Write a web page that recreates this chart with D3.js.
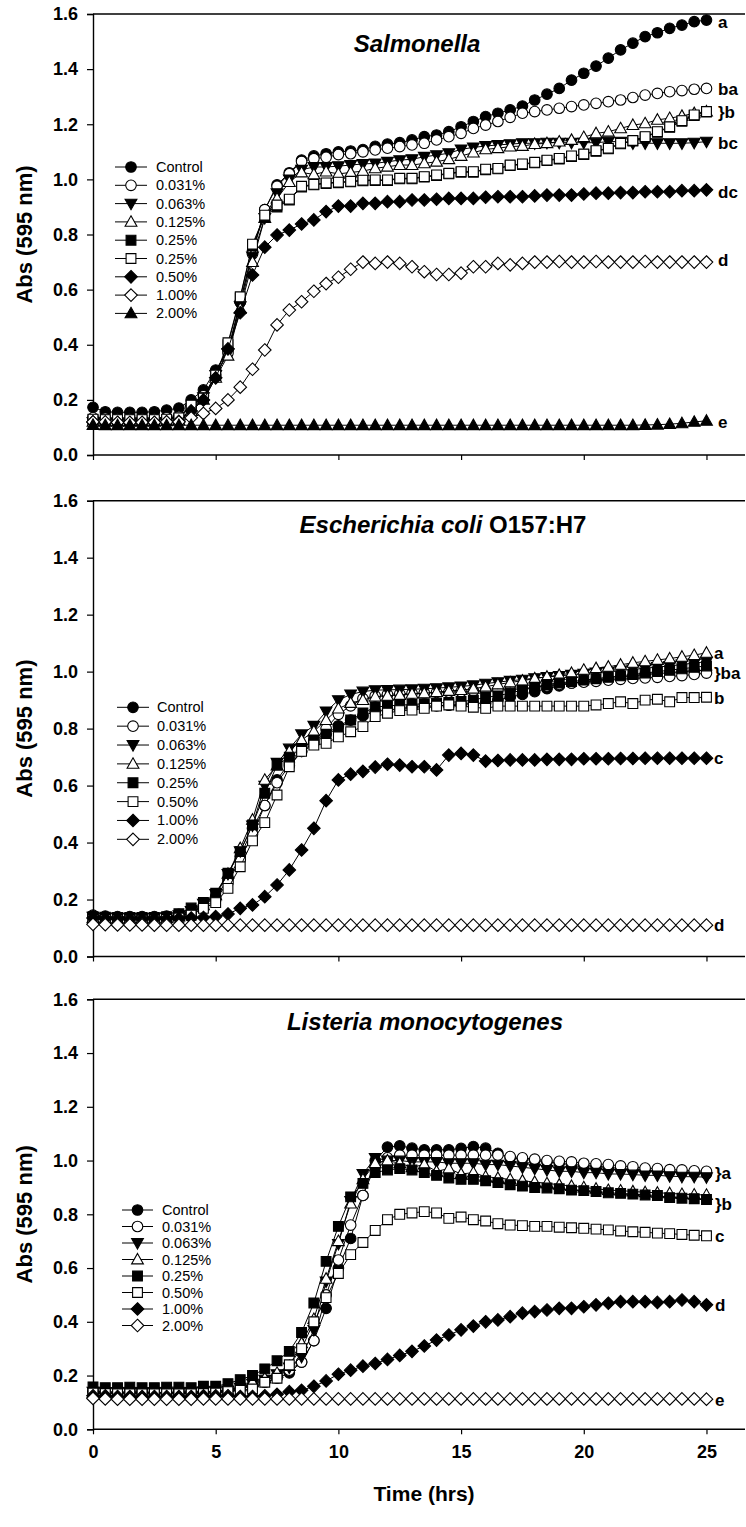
<!DOCTYPE html>
<html>
<head>
<meta charset="utf-8">
<script src="https://cdn.jsdelivr.net/npm/d3@7"></script>
<style>
  html, body { margin: 0; padding: 0; background: #fff; }
  svg { display: block; }
</style>
</head>
<body>
<script>
// Sampling times (hours)
const hours = [0,0.5,1,1.5,2,2.5,3,3.5,4,4.5,5,5.5,6,6.5,7,7.5,8,8.5,9,9.5,10,10.5,11,11.5,12,12.5,13,13.5,14,14.5,15,15.5,16,16.5,17,17.5,18,18.5,19,19.5,20,20.5,21,21.5,22,22.5,23,23.5,24,24.5,25];

// ---- Salmonella ----
const salControl = [0.173,0.157,0.155,0.155,0.155,0.157,0.163,0.170,0.200,0.236,0.308,0.380,0.555,0.740,0.890,0.980,1.024,1.070,1.085,1.093,1.100,1.103,1.108,1.120,1.128,1.133,1.143,1.155,1.161,1.173,1.191,1.210,1.228,1.240,1.252,1.266,1.288,1.309,1.330,1.360,1.385,1.411,1.440,1.470,1.494,1.518,1.532,1.548,1.560,1.572,1.578];
const sal031 = [0.135,0.133,0.130,0.130,0.130,0.130,0.135,0.140,0.175,0.215,0.290,0.370,0.555,0.730,0.890,0.975,1.020,1.065,1.075,1.080,1.090,1.093,1.100,1.107,1.113,1.119,1.125,1.131,1.143,1.155,1.167,1.185,1.197,1.210,1.225,1.240,1.246,1.252,1.258,1.264,1.270,1.276,1.282,1.288,1.297,1.306,1.312,1.318,1.322,1.327,1.330];
const sal063 = [0.120,0.118,0.118,0.118,0.118,0.118,0.120,0.125,0.165,0.210,0.290,0.370,0.540,0.720,0.860,0.950,1.000,1.035,1.045,1.045,1.048,1.052,1.056,1.058,1.064,1.070,1.073,1.082,1.088,1.095,1.109,1.116,1.121,1.125,1.128,1.131,1.131,1.133,1.133,1.133,1.133,1.133,1.137,1.137,1.131,1.131,1.131,1.131,1.131,1.133,1.137];
const sal125 = [0.120,0.120,0.120,0.120,0.120,0.120,0.122,0.125,0.160,0.200,0.280,0.360,0.530,0.700,0.860,0.930,0.990,1.025,1.018,1.028,1.020,1.025,1.030,1.040,1.046,1.052,1.052,1.058,1.064,1.073,1.085,1.097,1.109,1.113,1.119,1.121,1.128,1.131,1.137,1.143,1.153,1.167,1.173,1.185,1.197,1.203,1.216,1.222,1.230,1.240,1.246];
const sal25a = [0.128,0.127,0.126,0.126,0.126,0.126,0.128,0.133,0.178,0.205,0.288,0.400,0.570,0.760,0.865,0.900,0.925,0.972,0.980,0.985,0.988,0.991,0.995,0.996,0.996,1.002,1.002,1.008,1.014,1.020,1.026,1.026,1.035,1.038,1.050,1.054,1.060,1.068,1.074,1.083,1.090,1.102,1.111,1.129,1.139,1.153,1.171,1.189,1.211,1.232,1.244];
const sal25b = [0.130,0.128,0.128,0.128,0.128,0.128,0.130,0.135,0.181,0.206,0.290,0.407,0.574,0.765,0.870,0.907,0.928,0.975,0.982,0.987,0.990,0.993,0.997,0.998,0.998,1.004,1.004,1.010,1.016,1.022,1.028,1.028,1.037,1.040,1.052,1.056,1.062,1.070,1.076,1.085,1.092,1.104,1.113,1.131,1.141,1.155,1.173,1.191,1.213,1.234,1.246];
const sal50 = [0.120,0.118,0.118,0.118,0.118,0.118,0.120,0.122,0.160,0.200,0.280,0.385,0.516,0.653,0.754,0.798,0.816,0.838,0.853,0.883,0.903,0.903,0.913,0.913,0.919,0.919,0.925,0.925,0.928,0.931,0.931,0.931,0.935,0.937,0.937,0.937,0.940,0.943,0.943,0.943,0.947,0.950,0.950,0.952,0.952,0.955,0.955,0.955,0.959,0.959,0.962];
const sal100 = [0.120,0.120,0.118,0.118,0.118,0.118,0.120,0.120,0.135,0.151,0.169,0.200,0.246,0.311,0.381,0.472,0.526,0.556,0.594,0.622,0.645,0.674,0.700,0.695,0.700,0.695,0.683,0.665,0.655,0.655,0.660,0.683,0.683,0.695,0.690,0.695,0.700,0.700,0.702,0.700,0.700,0.702,0.700,0.700,0.700,0.702,0.700,0.700,0.700,0.700,0.700];
const sal200 = [0.109,0.108,0.108,0.108,0.108,0.108,0.108,0.108,0.108,0.108,0.108,0.108,0.108,0.108,0.108,0.108,0.108,0.108,0.108,0.108,0.108,0.108,0.108,0.108,0.108,0.108,0.108,0.108,0.108,0.108,0.108,0.108,0.108,0.108,0.108,0.108,0.108,0.108,0.108,0.108,0.108,0.108,0.108,0.108,0.108,0.109,0.110,0.112,0.115,0.120,0.124];

// ---- Escherichia coli O157:H7 ----
const ecControl = [0.145,0.142,0.140,0.140,0.140,0.140,0.142,0.148,0.158,0.175,0.210,0.270,0.350,0.450,0.530,0.620,0.680,0.720,0.750,0.780,0.810,0.830,0.845,0.860,0.865,0.870,0.875,0.878,0.880,0.882,0.885,0.888,0.890,0.900,0.910,0.920,0.930,0.940,0.950,0.960,0.965,0.970,0.975,0.980,0.985,0.990,0.993,0.996,1.000,1.003,1.005];
const ec031 = [0.140,0.138,0.137,0.137,0.137,0.137,0.138,0.142,0.150,0.170,0.200,0.260,0.340,0.430,0.530,0.610,0.670,0.720,0.760,0.800,0.850,0.880,0.905,0.915,0.920,0.922,0.924,0.925,0.927,0.928,0.930,0.932,0.933,0.935,0.937,0.940,0.945,0.950,0.955,0.960,0.963,0.966,0.970,0.973,0.976,0.978,0.980,0.983,0.986,0.990,0.995];
const ec063 = [0.140,0.137,0.136,0.136,0.136,0.136,0.138,0.145,0.160,0.185,0.220,0.290,0.370,0.460,0.600,0.680,0.730,0.780,0.810,0.860,0.900,0.920,0.930,0.935,0.936,0.937,0.938,0.940,0.942,0.945,0.948,0.952,0.958,0.963,0.968,0.972,0.977,0.981,0.985,0.989,0.993,0.997,1.000,1.004,1.008,1.012,1.016,1.020,1.025,1.030,1.035];
const ec125 = [0.135,0.133,0.132,0.132,0.132,0.132,0.134,0.140,0.155,0.180,0.215,0.290,0.380,0.480,0.620,0.670,0.720,0.760,0.790,0.830,0.870,0.890,0.900,0.912,0.915,0.918,0.922,0.924,0.928,0.932,0.935,0.940,0.947,0.955,0.962,0.968,0.976,0.982,0.988,0.995,1.006,1.012,1.017,1.024,1.031,1.036,1.041,1.046,1.052,1.058,1.066];
const ec25 = [0.140,0.138,0.137,0.137,0.137,0.137,0.140,0.150,0.170,0.190,0.222,0.292,0.368,0.462,0.573,0.672,0.700,0.730,0.760,0.780,0.800,0.830,0.855,0.875,0.880,0.882,0.885,0.887,0.890,0.892,0.895,0.900,0.910,0.915,0.925,0.935,0.945,0.955,0.960,0.965,0.970,0.975,0.980,0.985,0.990,0.995,1.000,1.005,1.010,1.015,1.020];
const ec50 = [0.130,0.130,0.128,0.128,0.128,0.128,0.130,0.135,0.145,0.169,0.189,0.239,0.315,0.406,0.470,0.567,0.666,0.720,0.742,0.748,0.771,0.789,0.807,0.842,0.854,0.863,0.865,0.871,0.879,0.883,0.879,0.875,0.871,0.879,0.879,0.879,0.879,0.879,0.879,0.879,0.879,0.883,0.888,0.894,0.888,0.900,0.903,0.894,0.909,0.909,0.910];
const ec100 = [0.135,0.133,0.132,0.132,0.132,0.132,0.132,0.133,0.135,0.137,0.140,0.149,0.169,0.181,0.210,0.251,0.304,0.374,0.450,0.547,0.620,0.640,0.650,0.665,0.675,0.672,0.666,0.666,0.655,0.707,0.713,0.707,0.686,0.688,0.690,0.690,0.690,0.692,0.692,0.692,0.694,0.694,0.694,0.695,0.695,0.696,0.696,0.696,0.696,0.696,0.696];
const ec200 = [0.113,0.112,0.111,0.111,0.111,0.110,0.110,0.110,0.110,0.110,0.110,0.110,0.110,0.110,0.110,0.110,0.110,0.110,0.110,0.110,0.110,0.110,0.110,0.110,0.110,0.110,0.110,0.110,0.110,0.110,0.110,0.110,0.110,0.110,0.110,0.110,0.110,0.110,0.110,0.110,0.110,0.110,0.110,0.110,0.110,0.110,0.110,0.110,0.110,0.110,0.110];

// ---- Listeria monocytogenes ----
const lmControl = [0.140,0.138,0.137,0.138,0.137,0.136,0.137,0.137,0.137,0.138,0.140,0.145,0.150,0.160,0.175,0.190,0.210,0.250,0.330,0.450,0.600,0.710,0.870,1.000,1.050,1.055,1.046,1.040,1.040,1.040,1.045,1.052,1.046,1.027,1.010,1.005,1.000,0.995,0.990,0.985,0.982,0.978,0.975,0.970,0.967,0.964,0.960,0.957,0.955,0.953,0.950];
const lm031 = [0.140,0.140,0.138,0.138,0.138,0.137,0.137,0.138,0.138,0.140,0.140,0.145,0.155,0.165,0.180,0.200,0.220,0.250,0.330,0.500,0.630,0.760,0.870,0.980,1.010,1.020,1.020,1.020,1.020,1.020,1.020,1.020,1.020,1.020,1.015,1.010,1.005,1.000,0.997,0.995,0.990,0.988,0.985,0.980,0.977,0.972,0.970,0.966,0.965,0.962,0.960];
const lm063 = [0.140,0.138,0.137,0.137,0.137,0.137,0.137,0.137,0.138,0.140,0.142,0.145,0.155,0.170,0.185,0.205,0.230,0.270,0.370,0.550,0.690,0.850,0.950,1.010,1.000,1.000,0.995,0.995,0.995,0.990,0.990,0.990,0.985,0.985,0.980,0.975,0.970,0.965,0.960,0.960,0.955,0.955,0.950,0.950,0.948,0.945,0.945,0.942,0.940,0.940,0.938];
const lm125 = [0.135,0.133,0.132,0.132,0.132,0.132,0.132,0.133,0.133,0.135,0.137,0.145,0.160,0.175,0.190,0.210,0.235,0.320,0.410,0.560,0.700,0.840,0.930,0.990,1.000,0.990,0.975,0.985,0.960,0.970,0.950,0.955,0.940,0.935,0.930,0.925,0.920,0.915,0.910,0.905,0.900,0.895,0.890,0.888,0.885,0.882,0.880,0.878,0.875,0.873,0.872];
const lm25 = [0.158,0.155,0.155,0.157,0.155,0.155,0.157,0.157,0.155,0.160,0.160,0.170,0.185,0.200,0.225,0.255,0.290,0.360,0.470,0.625,0.755,0.865,0.915,0.955,0.965,0.970,0.965,0.955,0.945,0.935,0.930,0.930,0.925,0.918,0.910,0.905,0.900,0.898,0.895,0.890,0.888,0.885,0.880,0.878,0.875,0.872,0.870,0.862,0.860,0.858,0.855];
const lm50 = [0.135,0.133,0.132,0.132,0.132,0.132,0.132,0.132,0.132,0.133,0.135,0.140,0.145,0.150,0.175,0.190,0.240,0.300,0.400,0.490,0.580,0.650,0.695,0.740,0.780,0.800,0.805,0.810,0.805,0.785,0.790,0.780,0.775,0.765,0.760,0.758,0.755,0.755,0.752,0.750,0.748,0.745,0.742,0.738,0.735,0.733,0.730,0.728,0.725,0.722,0.720];
const lm100 = [0.125,0.125,0.122,0.122,0.122,0.122,0.122,0.122,0.122,0.125,0.125,0.125,0.122,0.122,0.125,0.130,0.140,0.145,0.160,0.180,0.205,0.220,0.235,0.245,0.260,0.275,0.290,0.310,0.332,0.351,0.370,0.384,0.400,0.407,0.419,0.432,0.438,0.444,0.450,0.450,0.456,0.463,0.469,0.475,0.475,0.475,0.472,0.475,0.481,0.475,0.463];
const lm200 = [0.115,0.113,0.112,0.112,0.112,0.112,0.112,0.112,0.112,0.113,0.113,0.113,0.113,0.113,0.113,0.113,0.113,0.113,0.113,0.113,0.113,0.113,0.113,0.113,0.113,0.113,0.113,0.113,0.113,0.113,0.113,0.113,0.113,0.113,0.113,0.113,0.113,0.113,0.113,0.113,0.113,0.113,0.113,0.113,0.113,0.113,0.113,0.113,0.113,0.113,0.112];

// Axis ticks
const yTicks = [0, 0.2, 0.4, 0.6, 0.8, 1.0, 1.2, 1.4, 1.6];
const xTicks = [0, 5, 10, 15, 20, 25];

// Treatment labels per panel
const salLabels = ["Control","0.031%","0.063%","0.125%","0.25%","0.25%","0.50%","1.00%","2.00%"];
const ecLabels = ["Control","0.031%","0.063%","0.125%","0.25%","0.50%","1.00%","2.00%"];
const lmLabels = ["Control","0.031%","0.063%","0.125%","0.25%","0.50%","1.00%","2.00%"];

// Significance letters at the end of each curve: [text, level]
const salLetters = [["a",1.571],["ba",1.328],["}b",1.244],["bc",1.132],["dc",0.954],["d",0.707],["e",0.120]];
const ecLetters = [["a",1.065],["}ba",0.995],["b",0.907],["c",0.696],["d",0.111]];
const lmLetters = [["}a",0.954],["}b",0.838],["c",0.719],["d",0.462],["e",0.109]];

const W = 746, H = 1527;
const FONT = "'Liberation Sans', Arial, Helvetica, sans-serif";

// marker shapes: [shape, filled]
const MK = {
  fc: ["circle", true], oc: ["circle", false],
  fd: ["tdown", true], ot: ["tup", false], ft: ["tup", true],
  fs: ["square", true], os: ["square", false],
  fdi: ["diamond", true], odi: ["diamond", false]
};

function markerPath(shape) {
  switch (shape) {
    case "circle": return d3.arc()({innerRadius:0, outerRadius:5.3, startAngle:0, endAngle:2*Math.PI});
    case "square": return "M-4.9,-4.9H4.9V4.9H-4.9Z";
    case "diamond": return "M0,-6.3L6.3,0L0,6.3L-6.3,0Z";
    case "tup": return "M0,-6.1L5.9,4.4L-5.9,4.4Z";
    case "tdown": return "M0,6.1L5.9,-4.4L-5.9,-4.4Z";
  }
}

const panels = [
  {
    title: [{t:"Salmonella", italic:true}], titleX: 417, titleY: 52,
    yTop: 14, yBottom: 455, showXLabels: false,
    series: [
      [salControl, "fc"], [sal031, "oc"], [sal063, "fd"], [sal125, "ot"],
      [sal25a, "fs"], [sal25b, "os"], [sal50, "fdi"], [sal100, "odi"], [sal200, "ft"]
    ],
    labels: salLabels, letters: salLetters, letterX: 718,
    legend: {x1: 115, x2: 147, tx: 156, y0: 167, dy: 18.3}
  },
  {
    title: [{t:"Escherichia coli", italic:true}, {t:" O157:H7", italic:false}], titleX: 443, titleY: 533,
    yTop: 500.7, yBottom: 956.5, showXLabels: false,
    series: [
      [ecControl, "fc"], [ec031, "oc"], [ec063, "fd"], [ec125, "ot"],
      [ec25, "fs"], [ec50, "os"], [ec100, "fdi"], [ec200, "odi"]
    ],
    labels: ecLabels, letters: ecLetters, letterX: 714,
    legend: {x1: 117, x2: 149, tx: 157, y0: 707.3, dy: 18.86}
  },
  {
    title: [{t:"Listeria monocytogenes", italic:true}], titleX: 425, titleY: 1030,
    yTop: 999.3, yBottom: 1429.3, showXLabels: true,
    series: [
      [lmControl, "fc"], [lm031, "oc"], [lm063, "fd"], [lm125, "ot"],
      [lm25, "fs"], [lm50, "os"], [lm100, "fdi"], [lm200, "odi"]
    ],
    labels: lmLabels, letters: lmLetters, letterX: 715,
    legend: {x1: 122, x2: 153, tx: 162, y0: 1210, dy: 16.5}
  }
];

const svg = d3.select("body").append("svg")
  .attr("width", W).attr("height", H)
  .attr("viewBox", `0 0 ${W} ${H}`)
  .style("font-family", FONT);

const x = d3.scaleLinear().domain([0, 26.57]).range([93, 745]);

function drawMarker(g, key, cx, cy) {
  const [shape, filled] = MK[key];
  g.append("path")
    .attr("d", markerPath(shape))
    .attr("transform", `translate(${cx},${cy})`)
    .attr("fill", filled ? "#000" : "#fff")
    .attr("stroke", "#000")
    .attr("stroke-width", 1.1);
}

panels.forEach(p => {
  const y = d3.scaleLinear().domain([0, 1.6]).range([p.yBottom, p.yTop]);
  const g = svg.append("g");

  // frame: top border
  g.append("line").attr("x1", 93).attr("x2", 745).attr("y1", p.yTop).attr("y2", p.yTop)
    .attr("stroke", "#000").attr("stroke-width", 1.4);

  // y axis
  const yAxis = d3.axisLeft(y).tickValues(yTicks).tickFormat(d3.format(".1f")).tickSize(6).tickPadding(9);
  const ya = g.append("g").attr("transform", "translate(93,0)").call(yAxis);
  ya.select(".domain").attr("stroke-width", 1.4);
  ya.selectAll(".tick line").attr("stroke-width", 1.2);
  ya.selectAll("text").attr("font-family", FONT).attr("font-size", 18).attr("font-weight", "bold").attr("fill", "#000");

  // x axis
  const xAxis = d3.axisBottom(x).tickValues(xTicks).tickSize(5).tickPadding(11)
    .tickFormat(p.showXLabels ? d3.format("d") : () => "");
  const xa = g.append("g").attr("transform", `translate(0,${p.yBottom})`).call(xAxis);
  xa.select(".domain").attr("stroke-width", 1.4).attr("d", `M93,0H745`);
  xa.selectAll(".tick line").attr("stroke-width", 1.2);
  xa.selectAll("text").attr("font-family", FONT).attr("font-size", 18).attr("font-weight", "bold").attr("fill", "#000");

  // y-axis title
  g.append("text")
    .attr("transform", `translate(32,${(p.yTop + p.yBottom) / 2}) rotate(-90)`)
    .attr("text-anchor", "middle")
    .attr("font-size", 22).attr("font-weight", "bold")
    .text("Abs (595 nm)");

  // panel title
  const tt = g.append("text").attr("x", p.titleX).attr("y", p.titleY)
    .attr("text-anchor", "middle").attr("font-size", 24).attr("font-weight", "bold");
  p.title.forEach(part => {
    tt.append("tspan").attr("font-style", part.italic ? "italic" : "normal").text(part.t);
  });

  // series: connecting line then symbols, in legend order
  const line = d3.line().x((d, i) => x(hours[i])).y(d => y(d));
  p.series.forEach(([vals, key]) => {
    const sg = g.append("g");
    sg.append("path").attr("d", line(vals)).attr("fill", "none")
      .attr("stroke", "#000").attr("stroke-width", 1);
    vals.forEach((v, i) => drawMarker(sg, key, x(hours[i]), y(v)));
  });

  // legend
  const L = p.legend;
  p.series.forEach(([vals, key], i) => {
    const ly = L.y0 + i * L.dy;
    g.append("line").attr("x1", L.x1).attr("x2", L.x2).attr("y1", ly).attr("y2", ly)
      .attr("stroke", "#000").attr("stroke-width", 1);
    drawMarker(g, key, (L.x1 + L.x2) / 2, ly);
    g.append("text").attr("x", L.tx).attr("y", ly + 5)
      .attr("font-size", 14.5).text(p.labels[i]);
  });

  // significance letters
  p.letters.forEach(([t, v]) => {
    g.append("text").attr("x", p.letterX).attr("y", y(v) + 6)
      .attr("font-size", 17).attr("font-weight", "bold").text(t);
  });
});

// x-axis title
svg.append("text").attr("x", 424).attr("y", 1501)
  .attr("text-anchor", "middle").attr("font-size", 21).attr("font-weight", "bold")
  .text("Time (hrs)");
</script>
</body>
</html>
